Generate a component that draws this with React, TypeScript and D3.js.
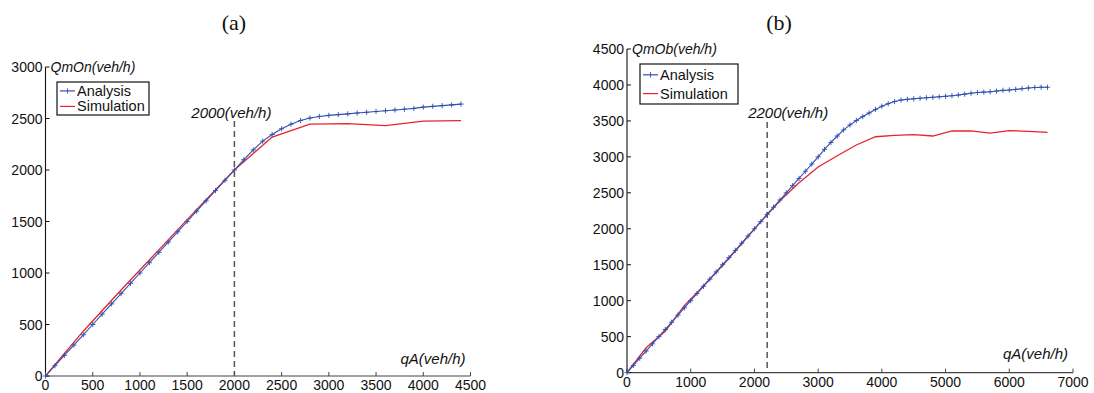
import React from 'react';
import * as d3 from 'd3';

// ---------- data ----------
const leftXTicks = [0, 500, 1000, 1500, 2000, 2500, 3000, 3500, 4000, 4500];
const leftYTicks = [0, 500, 1000, 1500, 2000, 2500, 3000];
const rightXTicks = [0, 1000, 2000, 3000, 4000, 5000, 6000, 7000];
const rightYTicks = [0, 500, 1000, 1500, 2000, 2500, 3000, 3500, 4000, 4500];

const leftAnalysisQ = [0, 100, 200, 300, 400, 500, 600, 700, 800, 900, 1000, 1100, 1200, 1300, 1400, 1500, 1600, 1700, 1800, 1900, 2000, 2100, 2200, 2300, 2400, 2500, 2600, 2700, 2800, 2900, 3000, 3100, 3200, 3300, 3400, 3500, 3600, 3700, 3800, 3900, 4000, 4100, 4200, 4300, 4400];
const leftAnalysisQm = [0, 100, 200, 300, 400, 500, 600, 700, 800, 900, 1000, 1100, 1200, 1300, 1400, 1500, 1600, 1700, 1800, 1900, 2000, 2100, 2195, 2280, 2345, 2400, 2445, 2480, 2505, 2520, 2530, 2538, 2545, 2553, 2560, 2568, 2575, 2583, 2590, 2598, 2610, 2618, 2625, 2632, 2640];
const leftSimQ = [0, 400, 800, 1200, 1600, 2000, 2400, 2800, 3200, 3600, 4000, 4400];
const leftSimQm = [0, 435, 835, 1225, 1615, 2000, 2320, 2445, 2450, 2430, 2475, 2480];

const rightAnalysisQ = [0, 100, 200, 300, 400, 500, 600, 700, 800, 900, 1000, 1100, 1200, 1300, 1400, 1500, 1600, 1700, 1800, 1900, 2000, 2100, 2200, 2300, 2400, 2500, 2600, 2700, 2800, 2900, 3000, 3100, 3200, 3300, 3400, 3500, 3600, 3700, 3800, 3900, 4000, 4100, 4200, 4300, 4400, 4500, 4600, 4700, 4800, 4900, 5000, 5100, 5200, 5300, 5400, 5500, 5600, 5700, 5800, 5900, 6000, 6100, 6200, 6300, 6400, 6500, 6600];
const rightAnalysisQm = [0, 100, 200, 300, 400, 500, 600, 700, 800, 900, 1000, 1100, 1200, 1300, 1400, 1500, 1600, 1700, 1800, 1900, 2000, 2100, 2200, 2300, 2400, 2500, 2600, 2700, 2800, 2900, 3000, 3105, 3200, 3290, 3375, 3445, 3505, 3560, 3610, 3660, 3705, 3740, 3770, 3790, 3800, 3808, 3815, 3822, 3828, 3835, 3842, 3850, 3860, 3872, 3885, 3895, 3900, 3905, 3915, 3925, 3930, 3938, 3948, 3958, 3965, 3968, 3968];
const rightSimQ = [0, 300, 600, 900, 1200, 1500, 1800, 2100, 2400, 2700, 3000, 3300, 3600, 3900, 4200, 4500, 4800, 5100, 5400, 5700, 6000, 6300, 6600];
const rightSimQm = [0, 345, 575, 930, 1205, 1490, 1790, 2100, 2390, 2640, 2860, 3015, 3165, 3280, 3300, 3310, 3290, 3360, 3360, 3330, 3365, 3355, 3340];

const seriesNames = ['Analysis', 'Simulation'];

const BLUE = '#2f4fb0';
const RED = '#e8232b';
const SANS = '"Liberation Sans", Arial, Helvetica, sans-serif';
const SERIF = '"Liberation Serif", "Times New Roman", serif';

type PanelProps = {
  title: string;
  yLabel: string;
  xDomain: [number, number];
  yDomain: [number, number];
  xRange: [number, number];
  yRange: [number, number];
  xTicks: number[];
  yTicks: number[];
  aQ: number[];
  aQm: number[];
  sQ: number[];
  sQm: number[];
  critical: number;
  criticalLabel: string;
  critLabelDx: number;
  titlePos: [number, number];
  legend: { x: number; y: number; w: number; h: number };
  dashTop: number;
  critLabelY: number;
  xLabelY: number;
};

function Panel(p: PanelProps) {
  const x = d3.scaleLinear().domain(p.xDomain).range(p.xRange);
  const y = d3.scaleLinear().domain(p.yDomain).range(p.yRange);
  const aPts = p.aQ.map((q, i) => [q, p.aQm[i]] as [number, number]);
  const sPts = p.sQ.map((q, i) => [q, p.sQm[i]] as [number, number]);
  const line = d3.line<[number, number]>().x(d => x(d[0])).y(d => y(d[1]));
  const x0 = p.xRange[0];
  const y0 = p.yRange[0];
  const tick = 4;
  const m = 2.6;
  const lg = p.legend;
  return (
    <g>
      <text x={p.titlePos[0]} y={p.titlePos[1]} fontFamily={SERIF} fontSize={22} textAnchor="middle" fill="#111">{p.title}</text>
      {/* axes */}
      <line x1={x0} x2={p.xRange[1]} y1={y0} y2={y0} stroke="#444" strokeWidth={1.1} />
      <line x1={x0} x2={x0} y1={y0} y2={p.yRange[1]} stroke="#111" strokeWidth={1.1} />
      {p.xTicks.map(t => (
        <g key={'xt' + t}>
          <line x1={x(t)} x2={x(t)} y1={y0} y2={y0 - tick} stroke="#444" strokeWidth={1} />
          <text x={x(t)} y={y0 + 14} fontFamily={SANS} fontSize={14} textAnchor="middle" fill="#111">{t}</text>
        </g>
      ))}
      {p.yTicks.map(t => (
        <g key={'yt' + t}>
          <line x1={x0} x2={x0 + tick} y1={y(t)} y2={y(t)} stroke="#111" strokeWidth={1} />
          <text x={x0 - 3} y={y(t) + 5} fontFamily={SANS} fontSize={14} textAnchor="end" fill="#111">{t}</text>
        </g>
      ))}
      <text x={x0 + 5} y={p.yRange[1] + 5} fontFamily={SANS} fontStyle="italic" fontSize={14} fill="#111">{p.yLabel}</text>
      <text x={p.xRange[1] - 5} y={p.xLabelY} fontFamily={SANS} fontStyle="italic" fontSize={15} textAnchor="end" fill="#111">qA(veh/h)</text>
      {/* critical flow */}
      <line x1={x(p.critical)} x2={x(p.critical)} y1={p.dashTop} y2={y0} stroke="#555" strokeWidth={1.5} strokeDasharray="6,4" />
      <text x={x(p.critical) + p.critLabelDx} y={p.critLabelY} fontFamily={SANS} fontStyle="italic" fontSize={15} textAnchor="middle" fill="#111">{p.criticalLabel}</text>
      {/* series */}
      <path d={line(sPts) || ''} fill="none" stroke={RED} strokeWidth={1.3} />
      <path d={line(aPts) || ''} fill="none" stroke={BLUE} strokeWidth={1.1} />
      {aPts.map((d, i) => (
        <g key={'m' + i} stroke={BLUE} strokeWidth={0.9}>
          <line x1={x(d[0]) - m} x2={x(d[0]) + m} y1={y(d[1])} y2={y(d[1])} />
          <line x1={x(d[0])} x2={x(d[0])} y1={y(d[1]) - m} y2={y(d[1]) + m} />
        </g>
      ))}
      {/* legend */}
      <rect x={lg.x} y={lg.y} width={lg.w} height={lg.h} fill="#fff" stroke="#111" strokeWidth={1.2} />
      {seriesNames.map((name, i) => {
        const cy = lg.y + lg.h * (i === 0 ? 0.27 : 0.74);
        const color = i === 0 ? BLUE : RED;
        return (
          <g key={name}>
            <line x1={lg.x + 3} x2={lg.x + 18} y1={cy} y2={cy} stroke={color} strokeWidth={1.2} />
            {i === 0 && (
              <g stroke={color} strokeWidth={0.9}>
                <line x1={lg.x + 10.5} x2={lg.x + 10.5} y1={cy - m} y2={cy + m} />
              </g>
            )}
            <text x={lg.x + 20} y={cy + 5} fontFamily={SANS} fontSize={14.5} fill="#111">{name}</text>
          </g>
        );
      })}
    </g>
  );
}

export default function App() {
  return (
    <svg width={1094} height={393} style={{ position: 'absolute', left: 0, top: 0, background: '#fff' }}>
      <rect x={0} y={0} width={1094} height={393} fill="#fff" />
      <Panel
        title="(a)"
        yLabel="QmOn(veh/h)"
        xDomain={[0, 4500]}
        yDomain={[0, 3000]}
        xRange={[45.5, 470.5]}
        yRange={[376, 67]}
        xTicks={leftXTicks}
        yTicks={leftYTicks}
        aQ={leftAnalysisQ}
        aQm={leftAnalysisQm}
        sQ={leftSimQ}
        sQm={leftSimQm}
        critical={2000}
        criticalLabel="2000(veh/h)"
        critLabelDx={-3}
        titlePos={[234, 30]}
        legend={{ x: 57, y: 82, w: 92, h: 33 }}
        dashTop={121}
        critLabelY={118}
        xLabelY={364}
      />
      <Panel
        title="(b)"
        yLabel="QmOb(veh/h)"
        xDomain={[0, 7000]}
        yDomain={[0, 4500]}
        xRange={[627, 1073]}
        yRange={[372.6, 49]}
        xTicks={rightXTicks}
        yTicks={rightYTicks}
        aQ={rightAnalysisQ}
        aQm={rightAnalysisQm}
        sQ={rightSimQ}
        sQm={rightSimQm}
        critical={2200}
        criticalLabel="2200(veh/h)"
        critLabelDx={21}
        titlePos={[779, 30]}
        legend={{ x: 640, y: 64, w: 98, h: 40 }}
        dashTop={122}
        critLabelY={118}
        xLabelY={359}
      />
    </svg>
  );
}
